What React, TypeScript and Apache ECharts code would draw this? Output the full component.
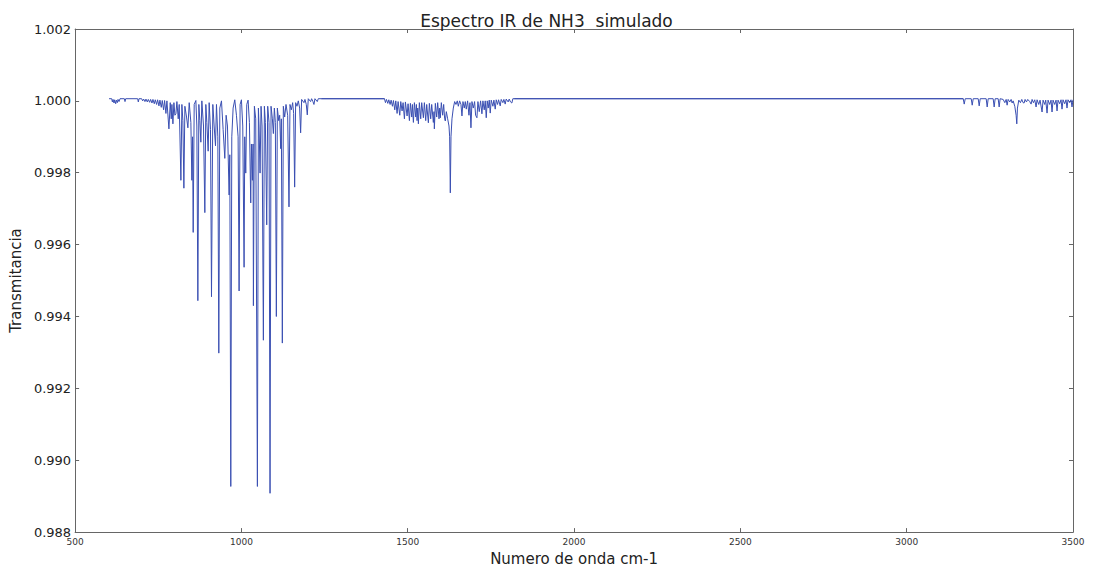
import React, { useEffect, useRef } from "react";
import * as echarts from "echarts";

// Simulated NH3 transmittance spectrum, vertices as [wavenumber cm-1, transmittance]

const baselineLevel = 1.00006;

// Low-frequency tail before the umbrella band
const lowTail: [number, number][] = [
  [602, 1.00006], [610, 1.00006], [612, 0.99997], [614, 1.00004], [617, 0.99994], [619, 1.00003],
  [622, 0.99992], [624, 1.00002], [627, 0.99995], [629, 1.00004], [632, 0.99998], [635, 1.00006],
  [648, 1.00006], [650, 0.99998], [652, 1.00006], [688, 1.00006], [690, 0.99997], [692, 1.00006],
  [700, 1.00006], [703, 1.0], [706, 1.00005], [710, 0.99998], [713, 1.00005], [717, 0.99997],
  [720, 1.00004], [724, 0.99996], [727, 1.00004], [731, 0.99994], [734, 1.00004], [738, 0.99992],
  [741, 1.00003], [745, 0.9999], [748, 1.00003], [752, 0.99986], [755, 1.00002], [759, 0.99982],
  [762, 1.00001], [766, 0.99975], [769, 1.00001], [773, 0.99965], [776, 1.0], [782, 0.99922],
  [786, 0.99995], [789, 0.9995], [791, 0.9999], [794, 0.99936], [797, 0.99995], [800, 0.9996],
  [803, 0.99964], [806, 0.99998],
];

// Umbrella (nu2) band, 800-1240 cm-1
const umbrellaBand: [number, number][] = [
  [810, 0.9995], [813, 0.9999], [818, 0.99779], [821, 0.9999], [824, 0.99945], [827, 0.99757],
  [830, 0.99985], [835, 0.99955], [839, 0.99925], [843, 0.99995], [848, 0.9994], [851, 0.99779],
  [853, 0.999], [855, 0.99634], [858, 0.9999], [863, 1.00001], [866, 0.9993], [869, 0.99444],
  [872, 0.9999], [875, 0.99945], [878, 0.99885], [881, 1.0], [886, 0.9993], [890, 0.99689],
  [893, 0.9999], [896, 0.9994], [900, 0.9986], [903, 0.99995], [907, 0.9992], [910, 0.99455],
  [914, 0.9999], [918, 0.9993], [922, 0.99875], [925, 0.9999], [929, 0.999], [932, 0.99298],
  [935, 0.9998], [940, 1.0], [945, 0.9992], [950, 0.9984], [954, 0.9996], [958, 0.9993],
  [963, 0.99738], [965, 0.9985], [968, 0.98927], [971, 0.999], [975, 0.9998], [980, 1.00003],
  [985, 0.9996], [990, 0.999], [993, 0.99471], [996, 0.9999], [1000, 1.00003], [1004, 0.9993],
  [1008, 0.99537], [1010, 0.999], [1013, 0.99799], [1016, 0.9999], [1020, 1.00002], [1024, 0.9994],
  [1028, 0.99716], [1030, 0.9988], [1033, 0.99779], [1035, 0.9988], [1036, 0.9943], [1039, 0.99985],
  [1043, 0.9995], [1048, 0.98927], [1051, 0.9998], [1053, 0.9993], [1056, 0.99799], [1059, 0.99985],
  [1062, 0.9993], [1066, 0.99334], [1069, 0.99985], [1072, 0.9994], [1076, 0.99655], [1079, 0.99985],
  [1083, 0.9994], [1086, 0.98908], [1089, 0.99985], [1093, 0.9995], [1096, 0.99909], [1099, 0.9998],
  [1102, 0.9994], [1105, 0.994], [1108, 0.9998], [1112, 0.99945], [1115, 0.9996], [1118, 0.99867],
  [1120, 0.9995], [1123, 0.99326], [1126, 0.99985], [1130, 0.99955], [1134, 0.9999], [1139, 0.9996],
  [1143, 0.99705], [1146, 0.9999], [1150, 0.99975], [1154, 0.99995], [1157, 0.99965], [1160, 0.9976],
  [1163, 0.99995], [1167, 0.99985], [1171, 1.0], [1175, 0.9998], [1178, 0.99911], [1181, 1.00004],
  [1188, 0.99995], [1191, 1.00004], [1195, 0.9999], [1198, 0.99961], [1201, 1.00006], [1208, 0.99998],
  [1211, 1.00006], [1215, 0.99998], [1218, 0.9999], [1221, 1.00006], [1228, 0.99998], [1231, 1.00006],
  [1240, 1.00006],
];

// Bending (nu4) band, 1430-1820 cm-1
const bendingBand: [number, number][] = [
  [1430, 1.00006], [1433, 0.99995], [1436, 1.00004], [1440, 0.99993], [1443, 1.00003], [1447, 0.9999],
  [1450, 1.00002], [1454, 0.99985], [1457, 1.00001], [1461, 0.99975], [1464, 1.0], [1468, 0.99965],
  [1471, 0.99998], [1476, 0.9996], [1479, 0.99998], [1483, 0.99972], [1486, 0.99995], [1490, 0.9995],
  [1493, 0.99997], [1498, 0.99958], [1501, 0.99992], [1505, 0.99945], [1508, 0.99993], [1512, 0.99955],
  [1514, 0.9999], [1517, 0.9994], [1520, 0.99995], [1524, 0.99955], [1526, 0.9999], [1528, 0.99945],
  [1530, 0.9998], [1532, 0.99936], [1535, 0.99995], [1539, 0.9995], [1542, 0.99995], [1547, 0.99953],
  [1550, 0.99995], [1554, 0.99945], [1557, 0.9999], [1562, 0.99939], [1565, 0.99993], [1569, 0.9995],
  [1572, 0.9999], [1577, 0.9994], [1579, 0.9997], [1580, 0.99922], [1583, 0.99993], [1587, 0.99955],
  [1590, 0.99995], [1594, 0.9995], [1596, 0.9998], [1598, 0.99953], [1601, 0.99995], [1605, 0.9996],
  [1608, 0.9999], [1611, 0.9995], [1613, 0.99944], [1616, 0.9997], [1620, 0.9995], [1624, 0.9993],
  [1626, 0.999], [1628, 0.99744], [1630, 0.999], [1633, 0.9995], [1637, 0.9998], [1641, 0.99998],
  [1645, 0.9999], [1649, 1.0], [1652, 0.99985], [1656, 1.0], [1660, 0.9999], [1663, 0.99958],
  [1666, 0.99998], [1670, 0.9998], [1673, 0.99998], [1676, 0.99977], [1680, 1.0], [1684, 0.9996],
  [1687, 0.99995], [1690, 0.99925], [1693, 0.99998], [1697, 0.9998], [1701, 0.99998], [1704, 0.9996],
  [1708, 0.99953], [1711, 0.99998], [1715, 0.9997], [1719, 1.0], [1723, 0.99964], [1726, 1.0],
  [1730, 0.99975], [1733, 1.0], [1736, 0.99953], [1739, 1.0], [1742, 0.9998], [1745, 1.00002],
  [1748, 0.99966], [1751, 1.00002], [1756, 0.99985], [1759, 1.00002], [1763, 0.99977], [1766, 1.00003],
  [1770, 0.9999], [1773, 1.00003], [1778, 0.99986], [1781, 1.00004], [1786, 0.99995], [1789, 1.00004],
  [1793, 0.99991], [1796, 1.00005], [1802, 0.99997], [1805, 1.00005], [1809, 0.99997], [1813, 0.99994],
  [1816, 1.00006], [1820, 1.00006],
];

// N-H stretching (nu1 / nu3) region, 3170-3500 cm-1
const stretchingBand: [number, number][] = [
  [3170, 1.00006], [3173, 0.99991], [3176, 1.00006], [3194, 1.00006], [3197, 0.99988], [3200, 1.00006],
  [3215, 1.00006], [3218, 0.99986], [3221, 1.00006], [3239, 1.00006], [3242, 0.99983], [3245, 1.00006],
  [3260, 1.00006], [3263, 0.99983], [3266, 1.00006], [3275, 1.00006], [3278, 0.99983], [3281, 1.00006],
  [3290, 1.00004], [3295, 0.99995], [3299, 1.00004], [3302, 0.99988], [3305, 1.00004], [3310, 0.99997],
  [3314, 1.00004], [3317, 0.99994], [3320, 1.0], [3325, 0.99985], [3329, 0.9996], [3331, 0.99936],
  [3333, 0.9998], [3337, 1.00002], [3342, 0.99995], [3346, 1.00004], [3350, 0.99995], [3353, 0.99994],
  [3356, 1.00004], [3360, 0.99997], [3364, 1.00004], [3370, 0.99998], [3374, 0.99991], [3377, 1.00004],
  [3381, 0.99995], [3385, 1.00003], [3389, 0.99983], [3392, 1.00003], [3397, 0.9999], [3401, 1.00002],
  [3407, 0.99969], [3410, 1.00002], [3415, 0.9999], [3418, 1.00002], [3422, 0.99966], [3425, 1.00002],
  [3430, 0.9999], [3434, 1.00002], [3437, 0.99969], [3440, 1.00002], [3445, 0.9999], [3449, 1.00002],
  [3452, 0.99972], [3455, 1.00002], [3460, 0.99992], [3464, 1.00003], [3467, 0.99977], [3470, 1.00003],
  [3475, 0.99992], [3479, 1.00003], [3482, 0.9998], [3485, 1.00003], [3490, 0.99995], [3494, 1.00003],
  [3497, 0.99983], [3500, 1.00003],
];

const xTicks = { min: 500, max: 3500, step: 500 };
const yTicks = { min: 0.988, max: 1.002, step: 0.002 };

const titleText = "Espectro IR de NH3  simulado";
const xAxisTitle = "Numero de onda cm-1";
const yAxisTitle = "Transmitancia";

const FONT = "'DejaVu Sans', 'Liberation Sans', sans-serif";
const FRAME = "#666666";
const TEXT = "#222222";
const LINE = "#3a4fb2";

export default function App() {
  const ref = useRef<HTMLDivElement>(null);

  useEffect(() => {
    if (!ref.current) return;
    const chart = echarts.init(ref.current, undefined, { renderer: "svg" });

    const spectrum = [...lowTail, ...umbrellaBand, ...bendingBand, ...stretchingBand];

    const frameLine = { show: true, onZero: false, lineStyle: { color: FRAME, width: 1 } };
    const innerTick = { show: true, inside: true, length: 4, lineStyle: { color: FRAME } };

    const xBase = {
      type: "value" as const,
      min: xTicks.min,
      max: xTicks.max,
      interval: xTicks.step,
      axisLine: frameLine,
      axisTick: innerTick,
      splitLine: { show: false },
    };
    const yBase = {
      type: "value" as const,
      min: yTicks.min,
      max: yTicks.max,
      interval: yTicks.step,
      axisLine: frameLine,
      axisTick: innerTick,
      splitLine: { show: false },
    };

    chart.setOption({
      animation: false,
      backgroundColor: "#ffffff",
      title: {
        text: titleText,
        left: "center",
        top: 7,
        textStyle: { fontFamily: FONT, fontSize: 17, fontWeight: "normal", color: TEXT },
      },
      grid: { left: 74, right: 20, top: 29, bottom: 33 },
      xAxis: [
        {
          ...xBase,
          position: "bottom",
          name: xAxisTitle,
          nameLocation: "middle",
          nameGap: 17,
          nameTextStyle: { fontFamily: FONT, fontSize: 15, color: TEXT },
          axisLabel: {
            fontFamily: FONT,
            fontSize: 9,
            color: "#333",
            margin: 5,
            formatter: (v: number) => String(Math.round(v)),
          },
        },
        { ...xBase, position: "top", axisLabel: { show: false } },
      ],
      yAxis: [
        {
          ...yBase,
          position: "left",
          name: yAxisTitle,
          nameLocation: "middle",
          nameGap: 48,
          nameTextStyle: { fontFamily: FONT, fontSize: 15, color: TEXT },
          axisLabel: {
            fontFamily: FONT,
            fontSize: 13,
            color: TEXT,
            margin: 4,
            formatter: (v: number) => v.toFixed(3),
          },
        },
        { ...yBase, position: "right", axisLabel: { show: false } },
      ],
      series: [
        {
          type: "line",
          data: spectrum,
          showSymbol: false,
          symbol: "none",
          lineStyle: { color: LINE, width: 1 },
        },
        {
          // flat baseline between the absorption bands
          type: "line",
          data: [
            [1240, baselineLevel],
            [1430, baselineLevel],
            [null, null],
            [1820, baselineLevel],
            [3170, baselineLevel],
          ],
          connectNulls: false,
          showSymbol: false,
          symbol: "none",
          lineStyle: { color: LINE, width: 1 },
        },
      ],
    });

    return () => chart.dispose();
  }, []);

  return (
    <div
      ref={ref}
      style={{ position: "fixed", left: 0, top: 0, width: 1093, height: 571, background: "#fff" }}
    />
  );
}
